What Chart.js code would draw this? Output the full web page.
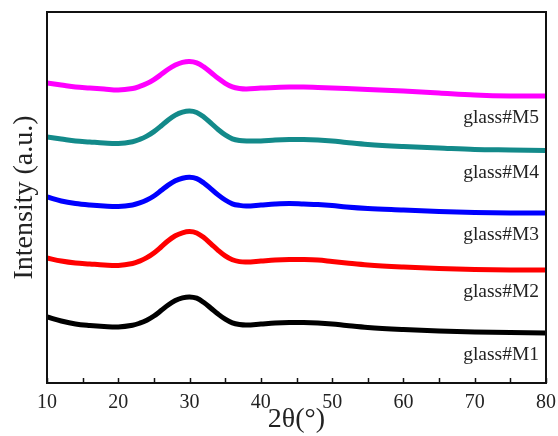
<!DOCTYPE html>
<html>
<head>
<meta charset="utf-8">
<script src="https://cdn.jsdelivr.net/npm/chart.js@4.4.1/dist/chart.umd.min.js"></script>
<style>
  html, body { margin: 0; padding: 0; background: #ffffff; }
  #wrap { width: 558px; height: 436px; }
</style>
</head>
<body>
<div id="wrap"><canvas id="c" width="558" height="436"></canvas></div>
<script>
// 2θ positions (degrees)
const twoTheta = [10,12,14,16,18,20,22,23,24,25,26,27,28,29,30,31,32,33,34,35,36,37,38,40,42,44,46,48,50,52,55,60,65,70,75,80];

// Intensities (a.u., stacked with vertical offsets as in the figure)
const m5 = [300,298,296,295,294,293,294.5,296.6,299.4,303.4,308.4,313.8,318,320.7,321.6,320.2,316.1,310.5,304.7,299.7,296.1,294.5,294,295,295.5,296,296,295.5,295,294.5,293.5,292,290,288,287,287];
const m4 = [246,244,242,241,240,239.5,241.3,243.6,246.9,251.4,257,263.1,267.9,270.8,271.9,270.5,266,259.9,253.5,248.1,244.2,242.5,242,242,243,243.5,243.5,243,242,240.5,238.5,236.5,235,233.5,233,232.5];
const m3 = [186,182,179.5,178,177,176.5,178,180.1,183,187,192.4,197.9,202.2,204.8,205.75,204.4,200,194.2,188.15,183,179.2,177.6,177,178,179,179.5,179,178.5,177.5,176,174.5,173,171.5,170.5,170,170];
const m2 = [125,122,120,119,118,117.5,119.5,121.9,125.3,130,136,142.3,147.3,150.2,151.4,150,145.4,139.2,132.7,127.1,123.2,121.4,121,122,123,123.5,123.5,123,121.5,120,118,116,114.5,113.5,113,113];
const m1 = [66,62,59,57.5,56.5,56,57.7,59.8,62.8,67,72.4,78,82.4,85.1,86.1,84.8,80.5,74.8,68.9,63.8,60.1,58.5,58,59,60,60.5,60.5,60,59,57.5,55.5,53.5,52,51,50.5,50];

const seriesNames = ['glass#M1','glass#M2','glass#M3','glass#M4','glass#M5'];
const seriesData = [m1, m2, m3, m4, m5];
const seriesColors = ['#000000','#ff0000','#0000ff','#138a8a','#ff00ff'];

const xTickLabels = [10,20,30,40,50,60,70,80];

const FONT = "'Liberation Serif', 'Times New Roman', serif";

const datasets = seriesData.map((vals, i) => ({
  label: seriesNames[i],
  data: vals.map((v, k) => ({ x: twoTheta[k], y: v })),
  borderColor: seriesColors[i],
  borderWidth: 5,
  pointRadius: 0,
  fill: false,
  tension: 0.35
}));

const framePlugin = {
  id: 'frame',
  afterDraw(chart) {
    const ctx = chart.ctx;
    const a = chart.chartArea;
    const xs = chart.scales.x;
    const ys = chart.scales.y;
    ctx.save();
    // inward ticks on bottom axis
    ctx.strokeStyle = '#111';
    ctx.lineWidth = 1.5;
    xs.ticks.forEach(t => {
      const px = Math.round(xs.getPixelForValue(t.value)) + 0.5;
      ctx.beginPath();
      ctx.moveTo(px, a.bottom);
      ctx.lineTo(px, a.bottom - 5);
      ctx.stroke();
    });
    // frame
    ctx.lineWidth = 2;
    ctx.strokeStyle = '#111';
    ctx.strokeRect(a.left, a.top, a.right - a.left, a.bottom - a.top);
    // series labels
    ctx.fillStyle = '#222';
    ctx.font = '19.5px ' + FONT;
    ctx.textAlign = 'right';
    ctx.textBaseline = 'middle';
    chart.data.datasets.forEach(ds => {
      const last = ds.data[ds.data.length - 1];
      const py = ys.getPixelForValue(last.y - 22);
      ctx.fillText(ds.label, a.right - 7, py);
    });
    ctx.restore();
  }
};

new Chart(document.getElementById('c'), {
  type: 'line',
  data: { datasets },
  options: {
    responsive: false,
    animation: false,
    layout: { padding: { top: 12, right: 12, left: 0, bottom: 0 } },
    plugins: { legend: { display: false }, tooltip: { enabled: false } },
    scales: {
      x: {
        type: 'linear',
        min: 10, max: 80,
        border: { display: false },
        grid: { display: false, drawTicks: false },
        ticks: {
          stepSize: 5,
          autoSkip: false,
          maxRotation: 0,
          padding: 8,
          color: '#222',
          font: { family: FONT, size: 20 },
          callback: v => xTickLabels.includes(v) ? String(v) : ''
        },
        title: {
          display: true,
          text: '2θ(°)',
          color: '#222',
          font: { family: FONT, size: 28 },
          padding: { top: 0, bottom: 0 }
        },
        afterFit(s) { s.height = 53; s.paddingLeft = 0; s.paddingRight = 0; }
      },
      y: {
        min: 0, max: 371,
        border: { display: false },
        grid: { display: false, drawTicks: false },
        ticks: { display: false },
        title: {
          display: true,
          text: 'Intensity (a.u.)',
          color: '#222',
          font: { family: FONT, size: 28 },
          padding: { top: 8, bottom: 0 }
        },
        afterFit(s) { s.width = 47; s.paddingTop = 0; s.paddingBottom = 0; }
      }
    }
  },
  plugins: [framePlugin]
});
</script>
</body>
</html>
